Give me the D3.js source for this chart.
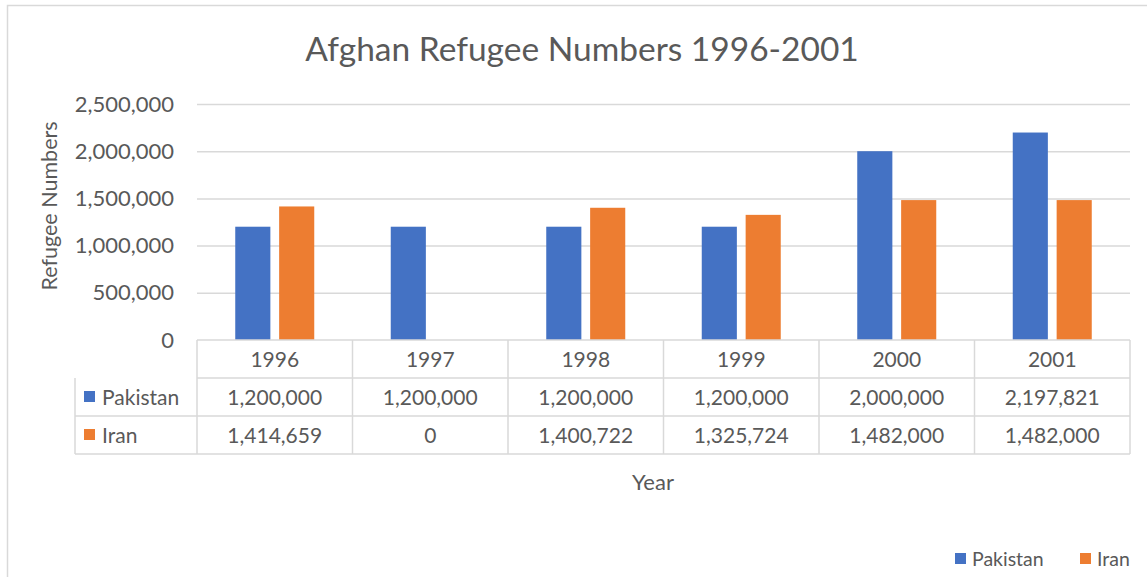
<!DOCTYPE html>
<html>
<head>
<meta charset="utf-8">
<script src="https://cdn.jsdelivr.net/npm/d3@7"></script>
<style>
body{margin:0;background:#fff;}
text{font-family:Lato,"Open Sans",sans-serif;fill:#595959;}
</style>
</head>
<body>
<svg width="1147" height="577"></svg>
<script>
// data
var years = ["1996","1997","1998","1999","2000","2001"];
var seriesNames = ["Pakistan","Iran"];
var pakistan = [1200000,1200000,1200000,1200000,2000000,2197821];
var iran = [1414659,0,1400722,1325724,1482000,1482000];
var yTicks = [0,500000,1000000,1500000,2000000,2500000];
var colors = ["#4472c4","#ed7d31"];

var svg = d3.select("svg");
var width = +svg.attr("width"), height = +svg.attr("height");
var plot = {left:197,right:1130,top:104,bottom:340};
var rowH = 38;
var fmt = d3.format(",");
var values = [pakistan, iran];

// chart border
svg.append("rect").attr("x",7.5).attr("y",5.5).attr("width",1150).attr("height",600)
    .attr("fill","none").attr("stroke","#d9d9d9").attr("stroke-width",1.5);

svg.append("text").attr("x",582).attr("y",61).attr("text-anchor","middle")
    .style("font-size","33.5px").text("Afghan Refugee Numbers 1996-2001");

var x0 = d3.scaleBand().domain(years).range([plot.left,plot.right]);
var x1 = d3.scaleBand().domain(seriesNames).range([0,79]).paddingInner(0.2);
var y = d3.scaleLinear().domain([0,2500000]).range([plot.bottom,plot.top]);

// gridlines
svg.append("g").selectAll("line").data(yTicks.slice(1)).enter().append("line")
    .attr("x1",plot.left).attr("x2",plot.right)
    .attr("y1",d=>y(d)+0.5).attr("y2",d=>y(d)+0.5)
    .attr("stroke","#d9d9d9").attr("stroke-width",1.5);

var yAxis = svg.append("g").attr("transform","translate("+plot.left+",0)")
    .call(d3.axisLeft(y).tickValues(yTicks).tickFormat(fmt).tickSize(0).tickPadding(23));
yAxis.select(".domain").remove();
yAxis.selectAll("text").style("font-size","22px").attr("fill","#595959").attr("font-family","Lato");

svg.append("text").attr("transform","translate(57,206) rotate(-90)").attr("text-anchor","middle")
    .style("font-size","21.5px").text("Refugee Numbers");

// bars
seriesNames.forEach(function(s,si){
    svg.append("g").selectAll("rect").data(values[si]).enter().append("rect")
        .attr("x",(d,i)=>x0(years[i])+(x0.bandwidth()-79)/2+x1(s))
        .attr("width",x1.bandwidth())
        .attr("y",d=>y(d)).attr("height",d=>y(0)-y(d))
        .attr("fill",colors[si]);
});

// data table
var tbl = svg.append("g").attr("stroke","#d9d9d9").attr("stroke-width",1.5).attr("fill","none");
var tLeft = 75;
tbl.append("line").attr("x1",plot.left).attr("x2",plot.right).attr("y1",plot.bottom).attr("y2",plot.bottom);
for (var r=1;r<=3;r++){
    tbl.append("line").attr("x1",r==1?plot.left:tLeft).attr("x2",plot.right)
        .attr("y1",plot.bottom+r*rowH).attr("y2",plot.bottom+r*rowH);
}
tbl.append("line").attr("x1",tLeft).attr("x2",tLeft).attr("y1",plot.bottom+rowH).attr("y2",plot.bottom+3*rowH);
years.concat(["end"]).forEach(function(yr,i){
    var xx = i<years.length ? x0(yr) : plot.right;
    tbl.append("line").attr("x1",xx).attr("x2",xx).attr("y1",plot.bottom).attr("y2",plot.bottom+3*rowH);
});

svg.append("g").selectAll("text").data(years).enter().append("text")
    .attr("x",d=>x0(d)+x0.bandwidth()/2).attr("y",plot.bottom+rowH/2+8)
    .attr("text-anchor","middle").style("font-size","21px").text(d=>d);

seriesNames.forEach(function(s,si){
    var cy = plot.bottom+(si+1)*rowH+rowH/2;
    svg.append("rect").attr("x",84).attr("y",cy-6).attr("width",11).attr("height",11).attr("fill",colors[si]);
    svg.append("text").attr("x",102).attr("y",cy+8).style("font-size","21px").text(s);
    svg.append("g").selectAll("text").data(values[si]).enter().append("text")
        .attr("x",(d,i)=>x0(years[i])+x0.bandwidth()/2).attr("y",cy+8)
        .attr("text-anchor","middle").style("font-size","21px").text(d=>fmt(d));
});

svg.append("text").attr("x",653).attr("y",490).attr("text-anchor","middle")
    .style("font-size","22px").text("Year");

// legend
var legX = [955,1080];
seriesNames.forEach(function(s,si){
    svg.append("rect").attr("x",legX[si]).attr("y",553).attr("width",11).attr("height",11).attr("fill",colors[si]);
    svg.append("text").attr("x",legX[si]+17).attr("y",566).style("font-size","19.5px").text(s);
});
</script>
</body>
</html>
